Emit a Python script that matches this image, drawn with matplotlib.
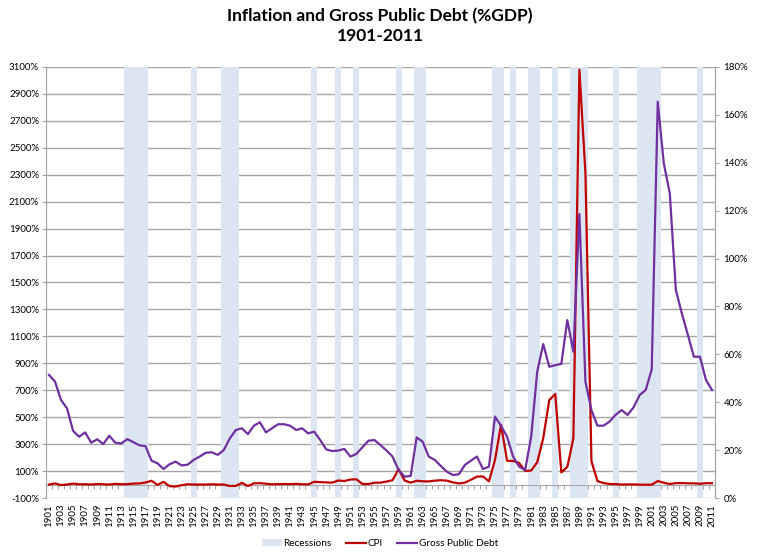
import numpy as np
import matplotlib
matplotlib.use("Agg")
import matplotlib.pyplot as plt
from matplotlib.patches import Patch
from matplotlib.lines import Line2D

plt.rcParams['font.family'] = ['Lato', 'DejaVu Sans']

# Data
years = list(range(1901, 2012))

cpi = [0, 8, -4, 0, 7, 2, 2, 0, 4, 2,
       0, 5, 2, 3, 7, 8, 15, 28, -3, 20,
       -12, -15, -5, 2, 0, 0, 0, 2, 0, 0,
       -11, -10, 12, -11, 9, 10, 6, 2, 3, 4,
       3, 5, 2, 1, 20, 18, 16, 14, 30, 26,
       37, 39, 4, 4, 13, 14, 22, 32, 114, 30,
       14, 28, 24, 23, 29, 32, 29, 16, 8, 14,
       35, 59, 60, 24, 183, 444, 176, 175, 160, 101,
       104, 165, 344, 627, 672, 90, 131, 343, 3080, 2314,
       172, 25, 11, 4, 3, 0, 1, 1, -1, -1,
       -1, 26, 13, 4, 10, 11, 9, 9, 6, 10,
       10]

debt = [51.4, 48.6, 40.9, 37.4, 28.0, 25.6, 27.4, 23.1, 24.5, 22.5,
        26.0, 23.1, 22.8, 24.6, 23.3, 22.0, 21.7, 15.6, 14.5, 12.1,
        14.1, 15.2, 13.6, 13.9, 15.9, 17.3, 18.9, 19.1, 18.0, 20.0,
        24.9, 28.4, 29.1, 26.7, 30.2, 31.6, 27.4, 29.1, 30.8, 30.8,
        30.2, 28.4, 29.1, 27.0, 27.7, 24.2, 20.3, 19.6, 19.8, 20.5,
        17.3, 18.4, 21.2, 23.9, 24.2, 22.1, 19.8, 17.3, 11.7, 8.9,
        9.2, 25.3, 23.5, 17.3, 15.9, 13.4, 11.0, 9.6, 9.9, 13.8,
        15.6, 17.3, 12.1, 13.1, 34.0, 30.1, 25.6, 17.3, 13.1, 11.7,
        25.6, 52.7, 64.3, 54.8, 55.5, 56.0, 74.3, 61.1, 118.6, 48.6,
        36.7, 30.2, 30.2, 31.9, 34.7, 36.7, 34.7, 37.9, 43.0, 45.1,
        53.7, 165.5, 139.8, 127.2, 86.9, 77.1, 68.1, 59.0, 59.0, 49.3,
        45.1]

recession_years = [1914, 1915, 1916, 1917, 1925, 1930, 1931, 1932, 1945, 1949,
                   1952, 1959, 1962, 1963, 1975, 1976, 1978, 1981, 1982, 1985,
                   1988, 1989, 1990, 1995, 1999, 2000, 2001, 2002, 2009]

red = '#C00000'
purple = '#7030A0'
band = '#DCE6F2'
grid = '#A6A6A6'

fig = plt.figure(figsize=(7.6, 5.55), dpi=100)
ax = fig.add_axes([0.0605, 0.1027, 0.8803, 0.7766])
ax2 = ax.twinx()

# recession bands
for y in recession_years:
    ax.axvspan(y - 0.5, y + 0.5, color=band, lw=0, zorder=1)

ax.set_ylim(-100, 3100)
ax.set_yticks(np.arange(-100, 3101, 200))
ax.set_yticklabels([f'{v}%' for v in range(-100, 3101, 200)], fontsize=7)
ax.yaxis.grid(True, color=grid, lw=1)
ax.set_axisbelow(True)

ax.plot(years, cpi, color=red, lw=1.6, zorder=3)

ax2.plot(years, debt, color=purple, lw=1.6, zorder=3)
ax2.set_ylim(0, 180)
ax2.set_yticks(range(0, 181, 20))
ax2.set_yticklabels([f'{v}%' for v in range(0, 181, 20)], fontsize=7)

ax.set_xlim(1900.5, 2011.5)
# category axis crosses at 0% of the left axis
ax.spines['bottom'].set_position(('data', 0))
ax.set_xticks(np.arange(1900.5, 2012, 1))
ax.set_xticklabels([])
ax.tick_params(axis='x', which='major', length=3, color=grid)
ax.set_xticks(years[::2], minor=True)
ax.set_xticklabels([str(y) for y in years[::2]], minor=True, rotation=90, fontsize=7)
ax.tick_params(axis='x', which='minor', length=0, pad=14)

for a in (ax, ax2):
    for s in a.spines.values():
        s.set_color(grid)
    a.spines['top'].set_visible(False)
ax2.spines['bottom'].set_visible(False)
ax.tick_params(axis='y', length=3, color=grid, pad=2)
ax2.tick_params(axis='y', length=3, color=grid, pad=3)

fig.suptitle('Inflation and Gross Public Debt (%GDP)\n1901-2011', fontsize=12.5,
             fontweight='bold', y=0.985, linespacing=1.25)

handles = [Patch(facecolor=band, edgecolor='none'),
           Line2D([], [], color=red, lw=1.6),
           Line2D([], [], color=purple, lw=1.6)]
fig.legend(handles, ['Recessions', 'CPI', 'Gross Public Debt'], loc='center',
           bbox_to_anchor=(0.5, 0.02), ncol=3, frameon=False, fontsize=7.2,
           handlelength=2.0, columnspacing=1.4, handletextpad=0.2)

fig.savefig('out.png', dpi=100)
